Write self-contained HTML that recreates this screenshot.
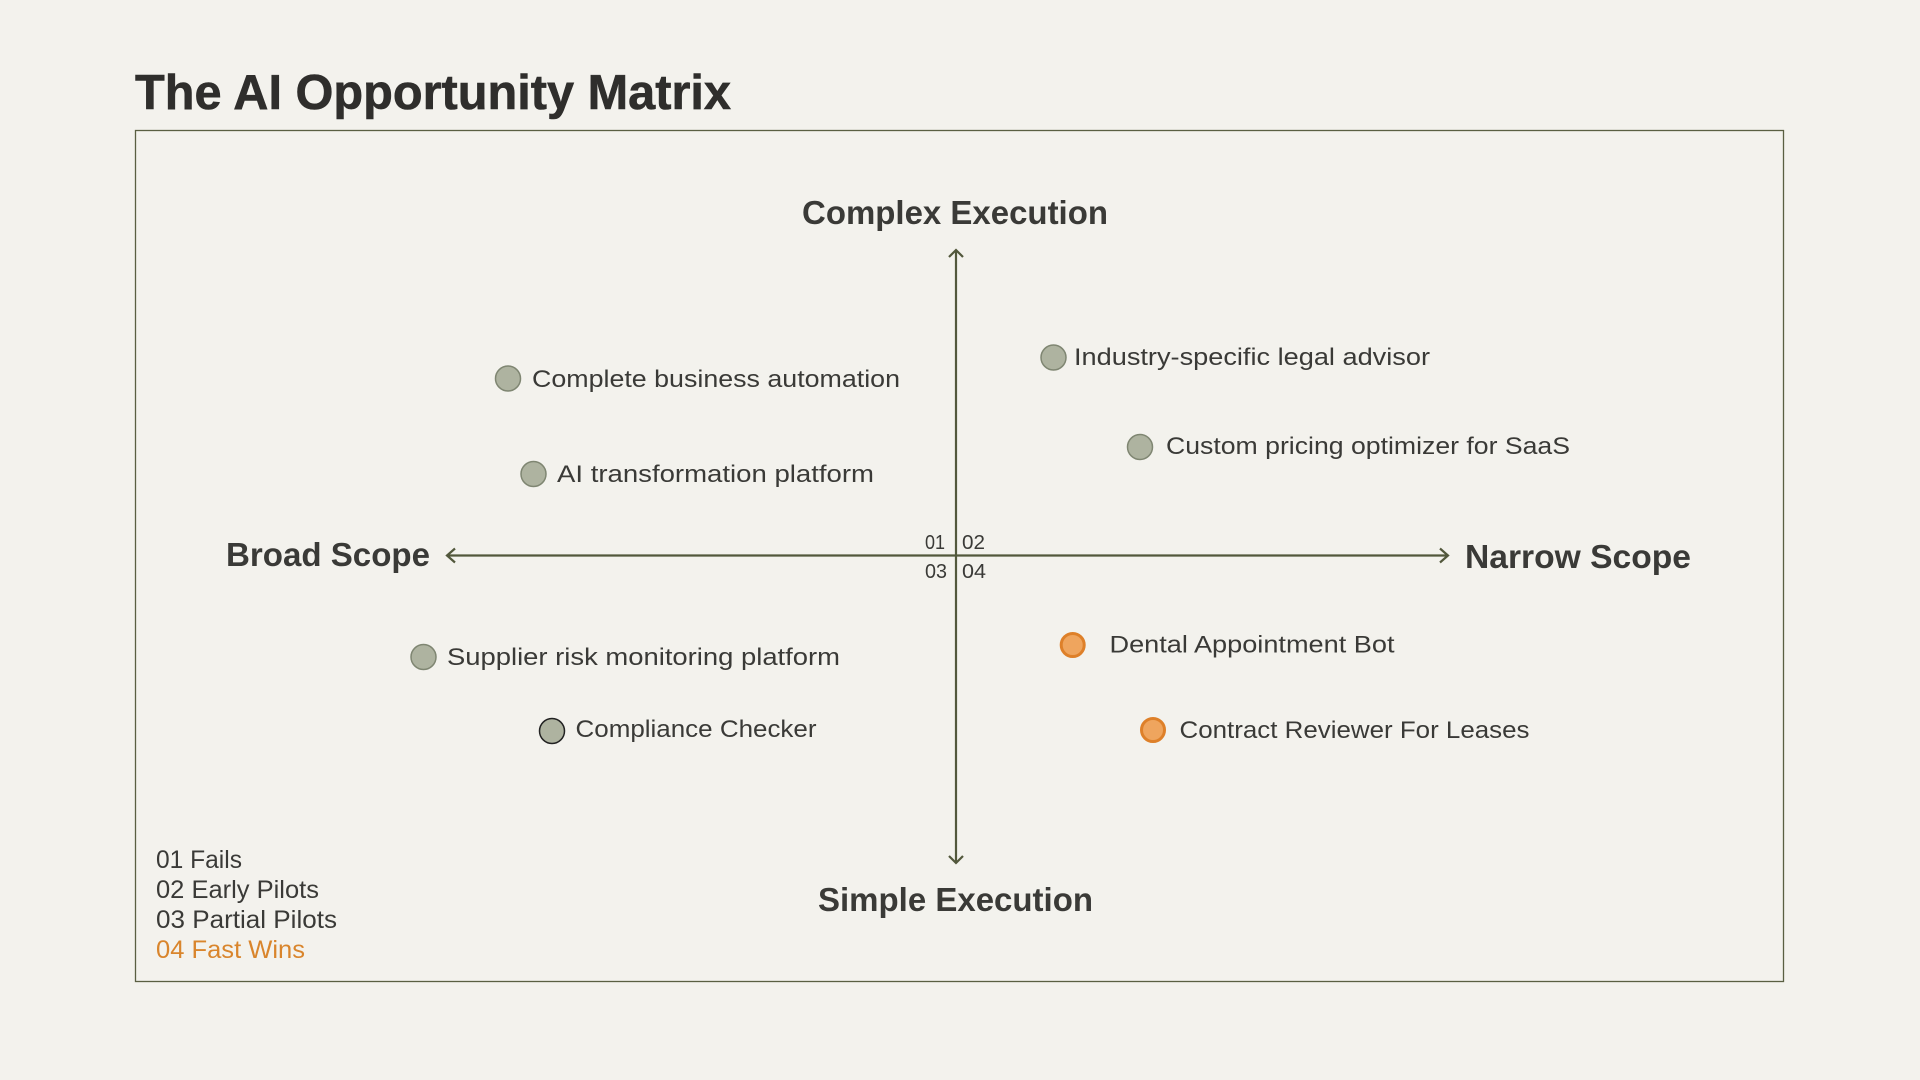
<!DOCTYPE html>
<html lang="en">
<head>
<meta charset="utf-8">
<title>The AI Opportunity Matrix</title>
<style>
html,body{margin:0;padding:0;width:1920px;height:1080px;overflow:hidden;background:#f3f2ed}
svg{display:block}
text{font-family:"Liberation Sans",sans-serif;fill:#3a3a37}
.t{font-size:24px}
.h{font-size:33px;font-weight:bold}
.l{font-size:25px}
.n{font-size:20px;font-weight:normal}
.g{fill:#aeb3a0;stroke:#7f8672;stroke-width:1.5}
.o{fill:#efa55e;stroke:#de8029;stroke-width:3}
.ax{stroke:#52583c;stroke-width:2.2;fill:none}
</style>
</head>
<body>
<svg width="1920" height="1080" viewBox="0 0 1920 1080" xmlns="http://www.w3.org/2000/svg">
<rect x="135.5" y="130.5" width="1648" height="851" fill="#f3f2ed" stroke="#5a5f42" stroke-width="1.3"/>
<text x="135" y="109" font-size="49" font-weight="bold" style="fill:#2f2e2c;stroke:#2f2e2c;stroke-width:.6" textLength="596" lengthAdjust="spacingAndGlyphs">The AI Opportunity Matrix</text>

<path class="ax" d="M956 250V863M949 257L956 250L963 257M949 856L956 863L963 856"/>
<path class="ax" d="M447 555.5H1448M455 548.5L447 555.5L455 562.5M1440 548.5L1448 555.5L1440 562.5"/>

<text class="h" x="802" y="224" textLength="306" lengthAdjust="spacingAndGlyphs">Complex Execution</text>
<text class="h" x="818" y="911" textLength="275" lengthAdjust="spacingAndGlyphs">Simple Execution</text>
<text class="h" x="226" y="566" textLength="204" lengthAdjust="spacingAndGlyphs">Broad Scope</text>
<text class="h" x="1465" y="568" textLength="226" lengthAdjust="spacingAndGlyphs">Narrow Scope</text>

<text class="n" x="925" y="549" textLength="20" lengthAdjust="spacingAndGlyphs">01</text>
<text class="n" x="962" y="549" textLength="23" lengthAdjust="spacingAndGlyphs">02</text>
<text class="n" x="925" y="578" textLength="22" lengthAdjust="spacingAndGlyphs">03</text>
<text class="n" x="962" y="578" textLength="24" lengthAdjust="spacingAndGlyphs">04</text>

<circle class="g" cx="508" cy="378.5" r="12.5"/>
<text class="t" x="532" y="387" textLength="368" lengthAdjust="spacingAndGlyphs">Complete business automation</text>
<circle class="g" cx="533.5" cy="474" r="12.5"/>
<text class="t" x="557" y="482" textLength="317" lengthAdjust="spacingAndGlyphs">AI transformation platform</text>
<circle class="g" cx="1053.5" cy="357.5" r="12.5"/>
<text class="t" x="1074" y="365" textLength="356" lengthAdjust="spacingAndGlyphs">Industry-specific legal advisor</text>
<circle class="g" cx="1140" cy="447" r="12.5"/>
<text class="t" x="1166" y="454" textLength="404" lengthAdjust="spacingAndGlyphs">Custom pricing optimizer for SaaS</text>
<circle class="g" cx="423.5" cy="657" r="12.5"/>
<text class="t" x="447" y="665" textLength="393" lengthAdjust="spacingAndGlyphs">Supplier risk monitoring platform</text>
<circle class="g" style="stroke:#222" cx="552" cy="731" r="12.5"/>
<text class="t" x="575.5" y="737" textLength="241" lengthAdjust="spacingAndGlyphs">Compliance Checker</text>
<circle class="o" cx="1072.7" cy="645" r="11.5"/>
<text class="t" x="1109.5" y="652.5" textLength="285" lengthAdjust="spacingAndGlyphs">Dental Appointment Bot</text>
<circle class="o" cx="1153" cy="730" r="11.5"/>
<text class="t" x="1179.5" y="738" textLength="350" lengthAdjust="spacingAndGlyphs">Contract Reviewer For Leases</text>

<text class="l" x="156" y="868" textLength="86" lengthAdjust="spacingAndGlyphs">01 Fails</text>
<text class="l" x="156" y="898" textLength="163" lengthAdjust="spacingAndGlyphs">02 Early Pilots</text>
<text class="l" x="156" y="928" textLength="181" lengthAdjust="spacingAndGlyphs">03 Partial Pilots</text>
<text class="l" x="156" y="958" textLength="149" lengthAdjust="spacingAndGlyphs" style="fill:#d9852c">04 Fast Wins</text>
</svg>
</body>
</html>
